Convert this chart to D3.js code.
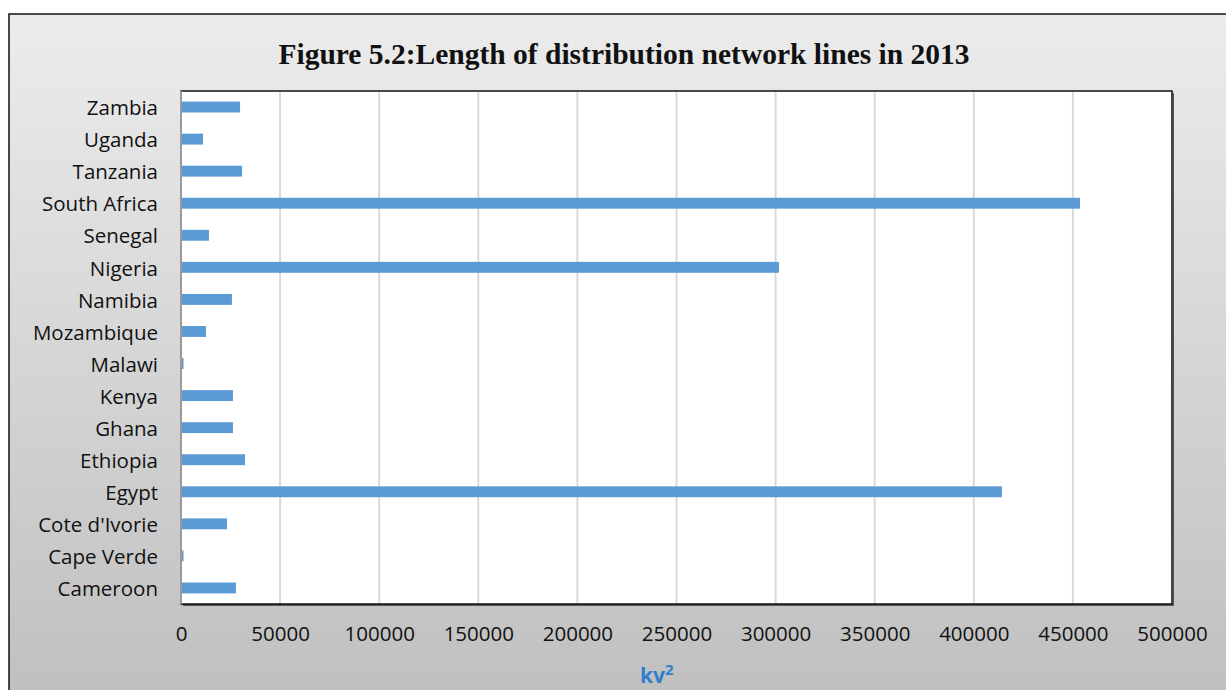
<!DOCTYPE html>
<html>
<head>
<meta charset="utf-8">
<script src="https://cdn.jsdelivr.net/npm/d3@7"></script>
<style>
  body { margin: 0; background: #fff; }
  svg { display: block; }
</style>
</head>
<body>
<script>
// Chart data (top to bottom order)
var countries = ["Zambia", "Uganda", "Tanzania", "South Africa", "Senegal", "Nigeria",
                 "Namibia", "Mozambique", "Malawi", "Kenya", "Ghana", "Ethiopia",
                 "Egypt", "Cote d'Ivorie", "Cape Verde", "Cameroon"];
var lengths = [29800, 11100, 30800, 453600, 14100, 301700,
               25700, 12600, 1000, 26200, 26200, 32300,
               414200, 23200, 900, 27700];
var xTicks = [0, 50000, 100000, 150000, 200000, 250000, 300000, 350000, 400000, 450000, 500000];

var W = 1226, H = 690;
var plot = {left: 181, top: 91, right: 1172, bottom: 604};

var svg = d3.select("body").append("svg")
            .attr("width", W)
            .attr("height", H);

var defs = svg.append("defs");
var grad = defs.append("linearGradient")
               .attr("id", "bg")
               .attr("x1", 0).attr("y1", 0)
               .attr("x2", 0).attr("y2", 1);
grad.append("stop").attr("offset", "0%").attr("stop-color", "#ececec");
grad.append("stop").attr("offset", "100%").attr("stop-color", "#bfbfbf");

// Outer frame, with a soft shadow
svg.append("rect")
   .attr("x", 12).attr("y", 17)
   .attr("width", W).attr("height", H)
   .attr("fill", "#9a9a9a");
svg.append("rect")
   .attr("x", 9).attr("y", 14)
   .attr("width", W).attr("height", H)
   .attr("fill", "url(#bg)")
   .attr("stroke", "#111")
   .attr("stroke-width", 1.5);

// Scales
var x = d3.scaleLinear()
          .domain([0, 500000])
          .range([plot.left, plot.right]);

var y = d3.scaleBand()
          .domain(countries)
          .range([plot.top, plot.bottom])
          .paddingInner(0.66)
          .paddingOuter(0.33);

// Plot area background + shadow
svg.append("rect")
   .attr("x", plot.left + 2).attr("y", plot.top + 2)
   .attr("width", plot.right - plot.left)
   .attr("height", plot.bottom - plot.top)
   .attr("fill", "#555");
svg.append("rect")
   .attr("x", plot.left).attr("y", plot.top)
   .attr("width", plot.right - plot.left)
   .attr("height", plot.bottom - plot.top)
   .attr("fill", "#fff");

// Gridlines
svg.append("g")
   .selectAll("line")
   .data(xTicks)
   .enter()
   .append("line")
   .attr("x1", d => x(d)).attr("x2", d => x(d))
   .attr("y1", plot.top).attr("y2", plot.bottom)
   .attr("stroke", "#d9d9d9")
   .attr("stroke-width", 2);

// Bars
svg.append("g")
   .selectAll("rect")
   .data(countries)
   .enter()
   .append("rect")
   .attr("x", x(0) + 1)
   .attr("y", d => y(d))
   .attr("width", (d, i) => Math.max(1.5, x(lengths[i]) - x(0) - 1))
   .attr("height", y.bandwidth())
   .attr("fill", "#5b9bd5");

// Plot border
svg.append("rect")
   .attr("x", plot.left).attr("y", plot.top)
   .attr("width", plot.right - plot.left)
   .attr("height", plot.bottom - plot.top)
   .attr("fill", "none")
   .attr("stroke", "#111")
   .attr("stroke-width", 1.5);
svg.append("line")
   .attr("x1", plot.left).attr("x2", plot.left)
   .attr("y1", plot.top).attr("y2", plot.bottom)
   .attr("stroke", "#9a9a9a")
   .attr("stroke-width", 2);

// Y axis labels
svg.append("g")
   .selectAll("text")
   .data(countries)
   .enter()
   .append("text")
   .attr("x", 158)
   .attr("y", d => y(d) + y.bandwidth() / 2 + 1)
   .attr("dy", "0.35em")
   .attr("text-anchor", "end")
   .style("font-family", "'Open Sans', sans-serif")
   .style("font-size", "20.5px")
   .style("fill", "#111")
   .text(d => d);

// X axis labels
var xAxis = d3.axisBottom(x)
              .tickValues(xTicks)
              .tickSize(0)
              .tickPadding(0)
              .tickFormat(d3.format("d"));

var gx = svg.append("g")
            .attr("transform", "translate(0," + 626 + ")")
            .call(xAxis);
gx.select(".domain").remove();
gx.selectAll("text")
  .style("font-family", "'Open Sans', sans-serif")
  .style("font-size", "20.5px")
  .style("fill", "#111");

// Axis title
var kv = svg.append("text")
            .attr("x", x(240000))
            .attr("y", 683)
            .attr("text-anchor", "middle")
            .style("font-family", "'Open Sans', sans-serif")
            .style("font-size", "21px")
            .style("font-weight", "bold")
            .style("fill", "#2f7fcf");
kv.append("tspan").text("kv");
kv.append("tspan").attr("dy", -8).style("font-size", "15px").text("2");

// Title
svg.append("text")
   .attr("x", 624)
   .attr("y", 64)
   .attr("text-anchor", "middle")
   .style("font-family", "'Liberation Serif', 'Times New Roman', serif")
   .style("font-size", "29.5px")
   .style("font-weight", "bold")
   .style("fill", "#111")
   .text("Figure 5.2:Length of distribution network lines in 2013");
</script>
</body>
</html>
